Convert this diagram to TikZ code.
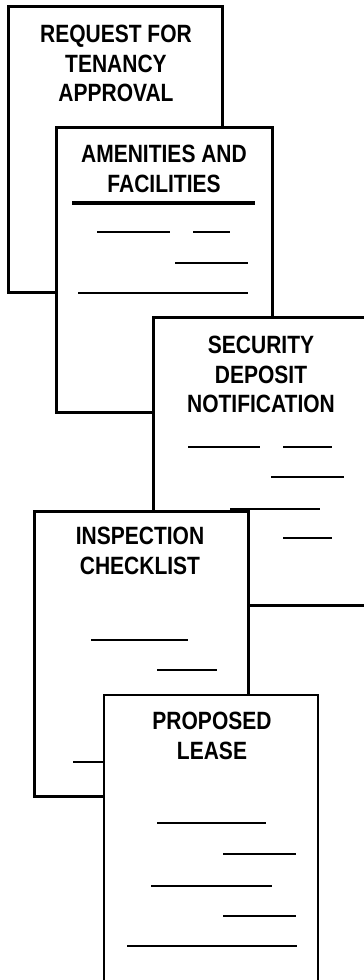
\documentclass[tikz,border=0pt]{standalone}
\usepackage{fontspec}
\setmainfont[FakeStretch=0.84]{Liberation Sans}
\begin{document}
\begin{tikzpicture}[x=1pt,y=-1pt,
  doc/.style={draw=black, fill=white, line width=3pt},
  ttl/.style={font=\fontsize{25}{29.5}\selectfont\bfseries, align=center, inner sep=0pt, anchor=north},
  blank/.style={line width=1.1pt}]
\useasboundingbox (0,0) rectangle (364,980);
\clip (0,0) rectangle (364,980);
% Request for tenancy approval
\draw[doc] (8,6) rectangle (222,292);
\node[ttl] (req) at (116,25) {REQUEST FOR\\TENANCY\\APPROVAL};
% Amenities and facilities
\draw[doc] (56,127) rectangle (272,412);
\node[ttl] (ame) at (164,145) {AMENITIES AND\\FACILITIES};
\draw[line width=4pt] (72,203) -- (255,203);
\draw[blank] (97,232) -- (170,232);
\draw[blank] (193,232) -- (230,232);
\draw[blank] (175,263) -- (248,263);
\draw[blank] (78,293) -- (248,293);
% Security deposit notification
\draw[doc] (153,317) rectangle (380,605);
\node[ttl] (sec) at (261,336) {SECURITY\\DEPOSIT\\NOTIFICATION};
\draw[blank] (188,447) -- (260,447);
\draw[blank] (283,447) -- (332,447);
\draw[blank] (271,477) -- (344,477);
\draw[blank] (230,509) -- (320,509);
\draw[blank] (283,538) -- (332,538);
% Inspection checklist
\draw[doc] (34,511) rectangle (248,796);
\node[ttl] (ins) at (140,527) {INSPECTION\\CHECKLIST};
\draw[blank] (91,640) -- (188,640);
\draw[blank] (157,670) -- (217,670);
\draw[blank] (73,762) -- (130,762);
% Proposed lease
\draw[doc, line width=2.4pt] (104,695) rectangle (318,990);
\node[ttl] (lea) at (212,712) {PROPOSED\\LEASE};
\draw[blank] (157,823) -- (266,823);
\draw[blank] (223,854) -- (296,854);
\draw[blank] (151,886) -- (272,886);
\draw[blank] (223,916) -- (296,916);
\draw[blank] (127,946) -- (297,946);
\end{tikzpicture}
\end{document}
